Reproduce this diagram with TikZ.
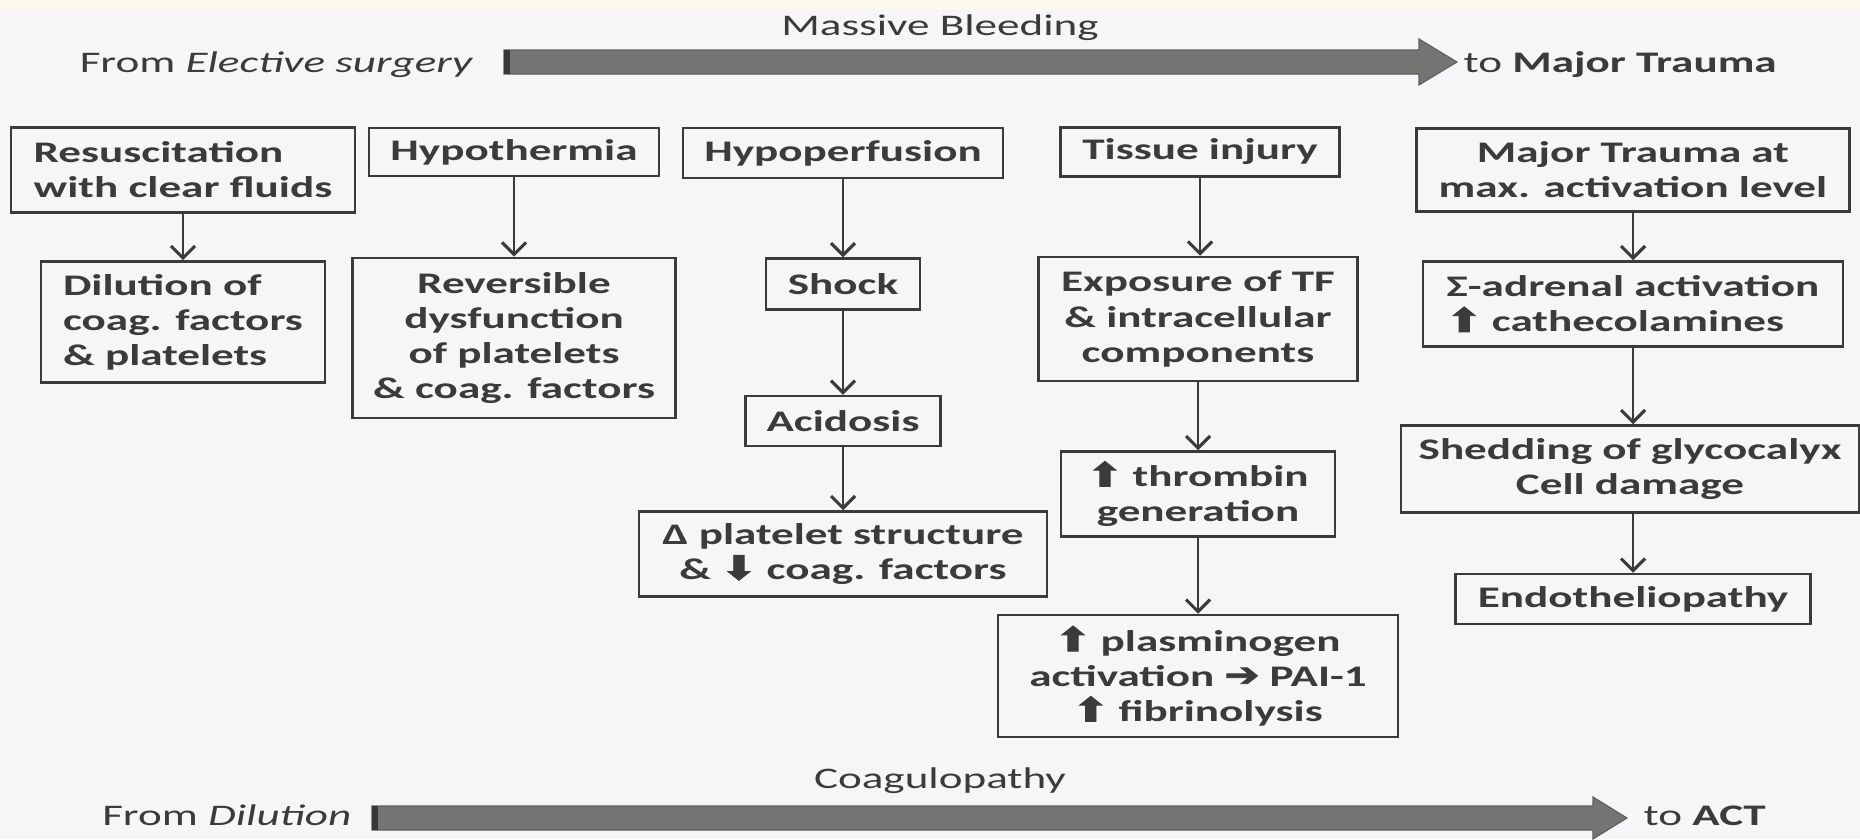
\documentclass[tikz,border=0pt]{standalone}
\usepackage{fontspec}
\setmainfont{Carlito}[FakeStretch=1.51]
\newfontfamily\symfont{DejaVu Sans}[FakeBold=2.5,FakeStretch=1.25]
\usetikzlibrary{arrows.meta,positioning}
\definecolor{ink}{HTML}{3B3B3D}
\definecolor{paper}{HTML}{F7F5F8}
\definecolor{cream}{HTML}{FDF9EC}
\definecolor{bar}{HTML}{747472}
\definecolor{bardark}{HTML}{383838}
\newcommand{\uparr}{{\symfont\fontsize{9.5}{10}\selectfont\char"2B06}}
\newcommand{\dnarr}{{\symfont\fontsize{9.5}{10}\selectfont\char"2B07}}
\newcommand{\rtarr}{{\symfont\fontsize{9.5}{10}\selectfont\char"2794}}

\begin{document}
\begin{tikzpicture}[x=0.01cm,y=-0.01cm,font=\fontsize{8.5}{10}\selectfont\bfseries,
  box/.style={draw=ink,line width=0.7pt,fill=paper,align=center,inner sep=2pt,text=ink},
  link/.style={draw=ink,line width=0.75pt,-{Straight Barb[length=1.2mm,width=2.4mm,line width=0.9pt]}},
  lbl/.style={text=ink,inner sep=0pt,font=\fontsize{8.5}{10}\selectfont\mdseries}]
  \useasboundingbox (0,0) rectangle (1860,839);
  \fill[paper] (0,0) rectangle (1860,839);
  \fill[cream] (0,0) rectangle (1860,9);

  % top band
  \node[lbl,anchor=base] (bleed) at (940,35) {Massive Bleeding};
  \node[lbl,anchor=base east] (fromA) at (474,72) {From \textit{Elective surgery}};
  \node[lbl,anchor=base west] (toA) at (1463,72) {to \textbf{Major Trauma}};
  \coordinate (a1) at (504,62);
  \coordinate (a2) at (1457,62);
  \fill[bar,draw=bar!80!black,line width=0.3pt] (a1) ++(0,-12) -- ++(915,0) -- ++(0,-11) -- (a2)
     -- ++(-38,23) -- ++(0,-11) -- ++(-915,0) -- cycle;
  \fill[bardark] (a1) ++(0,-12) rectangle ++(6,24);

  % causes
  \node[box,align=left,minimum width=3.44cm,minimum height=0.85cm] (resus) at (183,170) {Resuscitation\\with clear fluids};
  \node[box,minimum width=2.9cm,minimum height=0.48cm] (hypo) at (514,152) {Hypothermia};
  \node[box,minimum width=3.2cm,minimum height=0.5cm] (hypop) at (843,153) {Hypoperfusion};
  \node[box,minimum width=2.79cm,minimum height=0.49cm] (tissue) at (1200,152) {Tissue injury};
  \node[box,minimum width=4.33cm,minimum height=0.83cm] (major) at (1633,170) {Major Trauma at\\max. activation level};

  \node[box,align=left,minimum width=2.84cm,minimum height=1.21cm] (dil) at (183,322) {Dilution of\\coag. factors\\\& platelets};
  \node[box,minimum width=3.23cm,minimum height=1.6cm] (rev) at (514,338) {Reversible\\dysfunction\\of platelets\\\& coag. factors};
  \node[box,minimum width=1.54cm,minimum height=0.51cm] (shock) at (843,284) {Shock};
  \node[box,minimum width=3.19cm,minimum height=1.24cm] (expo) at (1198,319) {Exposure of TF\\\& intracellular\\components};
  \node[box,align=left,minimum width=4.2cm,minimum height=0.85cm] (sigma) at (1633,304) {Σ-adrenal activation\\\uparr\ cathecolamines};

  \node[box,minimum width=1.95cm,minimum height=0.5cm] (acid) at (843,421) {Acidosis};
  \node[box,minimum width=2.74cm,minimum height=0.85cm] (thromb) at (1198,494) {\uparr\ thrombin\\generation};
  \node[box,minimum width=4.58cm,minimum height=0.87cm] (shed) at (1630,469) {Shedding of glycocalyx\\Cell damage};

  \node[box,minimum width=4.08cm,minimum height=0.85cm] (delta) at (843,554) {Δ platelet structure\\\& \dnarr\ coag. factors};
  \node[box,minimum width=3.55cm,minimum height=0.5cm] (endo) at (1633,599) {Endotheliopathy};
  \node[box,minimum width=4cm,minimum height=1.22cm] (plasm) at (1198,676) {\uparr\ plasminogen\\activation \rtarr\ PAI-1\\\uparr\ fibrinolysis};

  \draw[link] (resus) -- (dil);
  \draw[link] (hypo) -- (rev);
  \draw[link] (hypop) -- (shock);
  \draw[link] (shock) -- (acid);
  \draw[link] (acid) -- (delta);
  \draw[link] (tissue.south) -- (tissue.south |- expo.north);
  \draw[link] (expo) -- (thromb);
  \draw[link] (thromb) -- (plasm);
  \draw[link] (major) -- (sigma);
  \draw[link] (sigma) -- (shed.north -| sigma.south);
  \draw[link] (shed.south -| endo.north) -- (endo);

  % bottom band
  \node[lbl,anchor=base] (coag) at (940,788) {Coagulopathy};
  \node[lbl,anchor=base east] (fromB) at (352,825) {From \textit{Dilution}};
  \node[lbl,anchor=base west] (toB) at (1643,825) {to \textbf{ACT}};
  \coordinate (b1) at (372,818);
  \coordinate (b2) at (1627,818);
  \fill[bar,draw=bar!80!black,line width=0.3pt] (b1) ++(0,-12) -- ++(1221,0) -- ++(0,-9) -- (b2)
     -- ++(-34,21) -- ++(0,-9) -- ++(-1221,0) -- cycle;
  \fill[bardark] (b1) ++(0,-12) rectangle ++(6,24);
\end{tikzpicture}
\end{document}
